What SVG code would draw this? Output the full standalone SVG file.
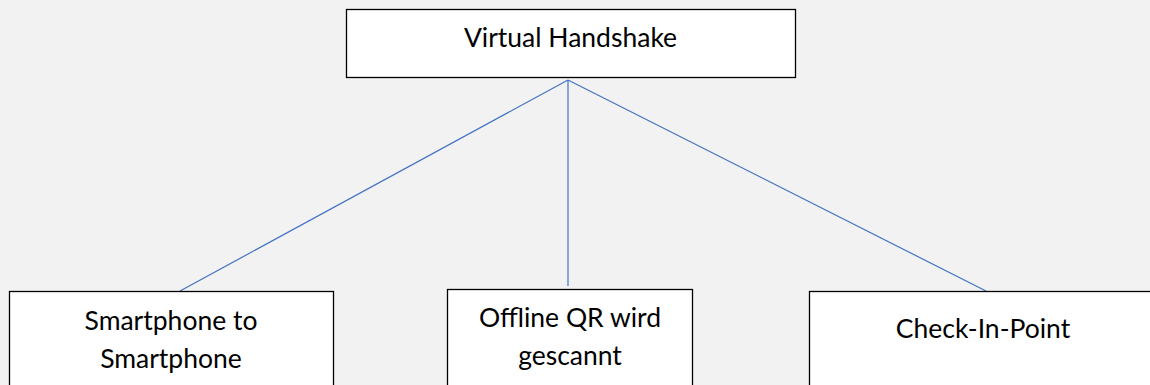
<svg xmlns="http://www.w3.org/2000/svg" width="1150" height="385" viewBox="0 0 1150 385">
<style>
.box{fill:#ffffff;stroke:#000000;stroke-width:1.3}
.lbl{font-family:Lato,"Liberation Sans",sans-serif;font-size:26.5px;fill:#000000;text-anchor:middle}
.conn{stroke:#4472c4;stroke-width:1.2;fill:none}
</style>
<rect x="0" y="0" width="1150" height="385" fill="#f2f2f2"/>
<g id="connectors">
<line class="conn" x1="568" y1="80" x2="180" y2="291"/>
<line class="conn" x1="568" y1="80" x2="568" y2="286"/>
<line class="conn" x1="568" y1="80" x2="986" y2="291"/>
</g>
<g id="node-virtual-handshake">
<rect class="box" x="346.5" y="9.5" width="449" height="68"/>
<text class="lbl" x="570.5" y="47">Virtual Handshake</text>
</g>
<g id="node-smartphone">
<rect class="box" x="9.5" y="291.5" width="324" height="110"/>
<text class="lbl" x="171" y="330">Smartphone to</text>
<text class="lbl" x="171" y="368">Smartphone</text>
</g>
<g id="node-offline-qr">
<rect class="box" x="447.5" y="289.5" width="245" height="110"/>
<text class="lbl" x="570" y="327">Offline QR wird</text>
<text class="lbl" x="570" y="365">gescannt</text>
</g>
<g id="node-check-in-point">
<rect class="box" x="809.5" y="291.5" width="347" height="110"/>
<text class="lbl" x="983" y="338">Check-In-Point</text>
</g>
</svg>
